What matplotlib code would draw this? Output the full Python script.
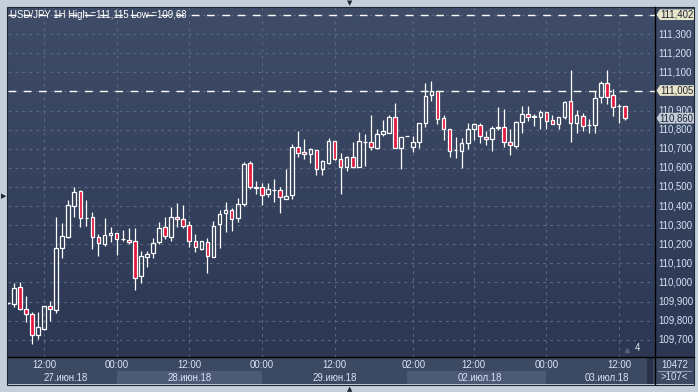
import numpy as np
import matplotlib
matplotlib.use("Agg")
import matplotlib.pyplot as plt
from matplotlib.patches import Rectangle, Polygon

plt.rcParams['font.family'] = ['Liberation Sans', 'DejaVu Sans']
plt.rcParams['lines.scale_dashes'] = False

# USD/JPY 1H, 27.06.18 06:00 .. 03.07.18 13:00
opens = [109.891, 109.888, 109.975, 109.860, 109.834, 109.724, 109.759, 109.876, 109.855, 110.183,
         110.240, 110.403, 110.478, 110.336, 110.341, 110.240, 110.200, 110.249, 110.259, 110.226,
         110.221, 110.218, 110.033, 110.132, 110.153, 110.211, 110.289, 110.240, 110.341, 110.332,
         110.301, 110.215, 110.177, 110.210, 110.135, 110.304, 110.362, 110.378, 110.336, 110.409,
         110.624, 110.502, 110.498, 110.461, 110.484, 110.482, 110.439, 110.456, 110.708, 110.682,
         110.671, 110.694, 110.593, 110.627, 110.741, 110.645, 110.607, 110.655, 110.603, 110.736,
         110.734, 110.706, 110.776, 110.785, 110.865, 110.703, 110.765, 110.711, 110.737, 110.833,
         110.980, 111.004, 110.860, 110.802, 110.692, 110.690, 110.732, 110.802, 110.823, 110.760,
         110.750, 110.811, 110.812, 110.736, 110.716, 110.839, 110.881, 110.874, 110.865, 110.891,
         110.849, 110.828, 110.865, 110.949, 110.833, 110.874, 110.825, 110.825, 110.969, 111.043,
         110.980, 110.924, 110.924]
highs = [109.895, 109.996, 110.001, 109.930, 109.848, 109.846, 109.876, 109.903, 110.343, 110.310,
         110.432, 110.502, 110.485, 110.432, 110.369, 110.254, 110.340, 110.289, 110.259, 110.275,
         110.284, 110.284, 110.165, 110.165, 110.235, 110.319, 110.341, 110.397, 110.418, 110.406,
         110.322, 110.252, 110.219, 110.231, 110.322, 110.379, 110.421, 110.388, 110.441, 110.631,
         110.638, 110.531, 110.519, 110.519, 110.540, 110.500, 110.594, 110.725, 110.795, 110.751,
         110.703, 110.694, 110.641, 110.755, 110.741, 110.676, 110.664, 110.734, 110.788, 110.778,
         110.877, 110.804, 110.851, 110.877, 110.942, 110.760, 110.765, 110.767, 110.833, 111.043,
         111.055, 111.004, 110.877, 110.802, 110.760, 110.755, 110.833, 110.837, 110.833, 110.793,
         110.821, 110.917, 110.907, 110.804, 110.846, 110.926, 110.924, 110.881, 110.903, 110.891,
         110.877, 110.865, 110.952, 111.112, 110.903, 110.886, 110.854, 111.003, 111.057, 111.115,
         111.011, 110.935, 110.924]
lows = [109.887, 109.874, 109.856, 109.795, 109.680, 109.706, 109.753, 109.800, 109.842, 110.130,
        110.235, 110.345, 110.293, 110.298, 110.176, 110.136, 110.190, 110.212, 110.146, 110.217,
        110.200, 109.959, 109.996, 110.080, 110.130, 110.202, 110.226, 110.218, 110.289, 110.283,
        110.188, 110.161, 110.170, 110.051, 110.132, 110.182, 110.266, 110.271, 110.318, 110.402,
        110.491, 110.463, 110.406, 110.449, 110.421, 110.366, 110.437, 110.439, 110.659, 110.647,
        110.627, 110.561, 110.561, 110.619, 110.641, 110.463, 110.586, 110.598, 110.603, 110.610,
        110.694, 110.697, 110.767, 110.785, 110.703, 110.594, 110.765, 110.685, 110.703, 110.812,
        110.952, 110.830, 110.746, 110.659, 110.654, 110.598, 110.697, 110.746, 110.732, 110.720,
        110.690, 110.798, 110.708, 110.668, 110.703, 110.785, 110.846, 110.819, 110.804, 110.804,
        110.828, 110.804, 110.858, 110.737, 110.781, 110.795, 110.781, 110.781, 110.938, 110.933,
        110.872, 110.837, 110.851]
closes = [109.891, 109.970, 109.860, 109.834, 109.724, 109.766, 109.876, 109.860, 110.179, 110.242,
          110.406, 110.472, 110.336, 110.336, 110.240, 110.205, 110.249, 110.259, 110.226, 110.226,
          110.214, 110.026, 110.136, 110.148, 110.205, 110.284, 110.244, 110.345, 110.331, 110.297,
          110.219, 110.184, 110.215, 110.140, 110.297, 110.358, 110.378, 110.334, 110.409, 110.620,
          110.502, 110.493, 110.456, 110.488, 110.484, 110.446, 110.455, 110.708, 110.680, 110.671,
          110.697, 110.593, 110.636, 110.741, 110.645, 110.607, 110.655, 110.603, 110.741, 110.736,
          110.711, 110.776, 110.793, 110.865, 110.703, 110.760, 110.765, 110.734, 110.833, 110.975,
          111.004, 110.854, 110.802, 110.689, 110.692, 110.732, 110.802, 110.828, 110.767, 110.750,
          110.807, 110.811, 110.734, 110.718, 110.839, 110.881, 110.868, 110.865, 110.891, 110.846,
          110.828, 110.865, 110.943, 110.833, 110.877, 110.821, 110.825, 110.964, 111.043, 110.973,
          110.921, 110.924, 110.860]

time_ticks = [6, 18, 30, 42, 54, 67, 77, 89, 101]
time_labels = ['12:00', '00:00', '12:00', '00:00', '12:00', '02:00', '12:00', '00:00', '12:00']
day_labels = ['27.июн.18', '28.июн.18', '29.июн.18', '02.июл.18', '03.июл.18']
day_centers = [9.5, 30, 54, 78, 99]
day_bands = [(18, 42), (66, 89)]
price_ticks = [109.7, 109.8, 109.9, 110.0, 110.1, 110.2, 110.3, 110.4, 110.5,
               110.6, 110.7, 110.8, 110.9, 111.0, 111.1, 111.2, 111.3, 111.4]
level_lines = [111.402, 111.005]
last_price = 110.860
title = 'USD/JPY 1H High =111,115 Low =109,68'

W, H = 698, 392
BG_OUT = '#c5cfdc'
TXT = '#d8e4f6'
RED = '#e3173f'
GRID = '#5a6883'
FS = 6.9


def box(x0, y0, x1, y1):
    return [x0 / W, 1 - y1 / H, (x1 - x0) / W, (y1 - y0) / H]


def gradient(ax, top, bottom):
    c0 = np.array(matplotlib.colors.to_rgb(top))
    c1 = np.array(matplotlib.colors.to_rgb(bottom))
    t = np.linspace(0, 1, 256)[:, None]
    img = (c0 * (1 - t) + c1 * t)[:, None, :]
    ax.imshow(img, extent=[0, 1, 0, 1], transform=ax.transAxes, aspect='auto', zorder=0)


def fmt(p):
    return f'{p:.3f}'.replace('.', ',')


fig = plt.figure(figsize=(W / 100, H / 100), dpi=100)
fig.patch.set_facecolor(BG_OUT)

xlim = (0.05, 106.94)
ylim = (109.6098, 111.4423)

# main candle panel
ax = fig.add_axes(box(8, 7, 655, 357))
gradient(ax, '#3f4c68', '#2c3853')
ax.set_xlim(*xlim)
ax.set_ylim(*ylim)
for s in ax.spines.values():
    s.set_visible(False)
ax.set_xticks([])
ax.set_yticks([])

for p in price_ticks:
    ax.axhline(p, color=GRID, lw=0.8, dashes=(2, 3), zorder=1)
for t in time_ticks:
    ax.axvline(t, color=GRID, lw=0.8, dashes=(2, 3), zorder=1)
for lv in level_lines:
    ax.axhline(lv, color='white', lw=1.0, dashes=(5.5, 5.5), zorder=2)

idx = np.arange(len(opens))
o = np.array(opens)
c = np.array(closes)
h = np.array(highs)
l = np.array(lows)
top = np.maximum(o, c)
bot = np.minimum(o, c)
ax.vlines(idx, top, h, color='white', lw=0.9, zorder=3)
ax.vlines(idx, l, bot, color='white', lw=0.9, zorder=3)
up = c >= o
hgt = np.maximum(top - bot, 0.0005)
ax.bar(idx[up], hgt[up], bottom=bot[up], width=0.6, facecolor='none',
       edgecolor='white', linewidth=0.9, zorder=4)
ax.bar(idx[~up], hgt[~up], bottom=bot[~up], width=0.6, facecolor=RED,
       edgecolor='white', linewidth=0.9, zorder=4)

ax.text(0.003, level_lines[0], title, transform=ax.get_yaxis_transform(),
        color='white', fontsize=FS, va='center', ha='left', zorder=5)
ax.text(0.968, 0.012, '4', transform=ax.transAxes, color='#e0e8f4',
        fontsize=FS, va='bottom', ha='left', zorder=5)
ax.plot([0.957], [0.02], marker='^', ms=3, color='#56627c',
        transform=ax.transAxes, zorder=5)

# right price panel
rax = fig.add_axes(box(655, 7, 694, 357))
gradient(rax, '#3f4c68', '#2c3853')
rax.set_xlim(655, 694)
rax.set_ylim(*ylim)
rax.axis('off')
for p in price_ticks:
    if p in (111.0, 111.4):
        continue
    rax.text(658.5, p, fmt(p), color=TXT, fontsize=FS, va='center', ha='left')

ph = 0.028
for lv, fc in [(level_lines[0], '#e8e5ca'), (level_lines[1], '#e8e5ca'), (last_price, '#c5cdd9')]:
    poly = Polygon([[656.5, lv], [660, lv + ph], [694, lv + ph], [694, lv - ph], [660, lv - ph]],
                   closed=True, facecolor=fc, edgecolor='none', zorder=5)
    rax.add_patch(poly)
    rax.text(676.8, lv, fmt(lv), color='#1b2233', fontsize=FS, va='center', ha='center', zorder=6)

# bottom time axis
bax = fig.add_axes(box(8, 357, 655, 384))
bax.set_facecolor('#3c4963')
bax.set_xlim(*xlim)
bax.set_ylim(0, 1)
for s in bax.spines.values():
    s.set_visible(False)
bax.set_xticks([])
bax.set_yticks([])
for a, b in day_bands:
    bax.add_patch(Rectangle((a, 0), b - a, 0.47, facecolor='#4c5a76', edgecolor='none'))
for t, lab in zip(time_ticks, time_labels):
    bax.text(t, 0.70, lab, color=TXT, fontsize=FS, ha='center', va='center')
for t, lab in zip(day_centers, day_labels):
    bax.text(t, 0.24, lab, color=TXT, fontsize=FS, ha='center', va='center')
bax.add_patch(Rectangle((0.988, 0.0), 0.009, 1.0, transform=bax.transAxes,
                        facecolor='#27324a', edgecolor='none'))

# corner box
cax = fig.add_axes(box(655, 357, 694, 384))
cax.set_facecolor('#3c4963')
cax.set_xlim(0, 1)
cax.set_ylim(0, 1)
cax.set_xticks([])
cax.set_yticks([])
for s in cax.spines.values():
    s.set_visible(False)
cax.text(0.5, 0.72, '10472', color=TXT, fontsize=FS, ha='center', va='center')
cax.text(0.5, 0.25, '>107<', color=TXT, fontsize=FS, ha='center', va='center')
cax.plot([0.08, 0.92], [0.49, 0.49], color='#8a98b0', lw=0.8)

# frame lines
fig.add_artist(plt.Line2D([655 / W, 655 / W], [1 - 7 / H, 1 - 384 / H], color='black', lw=1.0))
fig.add_artist(plt.Line2D([8 / W, 694 / W], [1 - 357 / H, 1 - 357 / H], color='black', lw=1.0))
fig.add_artist(Rectangle((7.5 / W, 1 - 384.5 / H), 686.5 / W, 378 / H, transform=fig.transFigure,
                         facecolor='none', edgecolor='#1d2636', lw=0.8))

# scroll arrows on the outer frame
fig.text(350 / W, 1 - 3 / H, '▼', color='#1d2636', fontsize=5, ha='center', va='center',
         family=['DejaVu Sans'])
fig.text(350 / W, 1 - 389 / H, '▲', color='#1d2636', fontsize=5, ha='center', va='center',
         family=['DejaVu Sans'])
fig.text(3.5 / W, 1 - 196 / H, '▶', color='#1d2636', fontsize=5, ha='center', va='center',
         family=['DejaVu Sans'])

fig.savefig('out.png', dpi=100, facecolor=fig.get_facecolor())
